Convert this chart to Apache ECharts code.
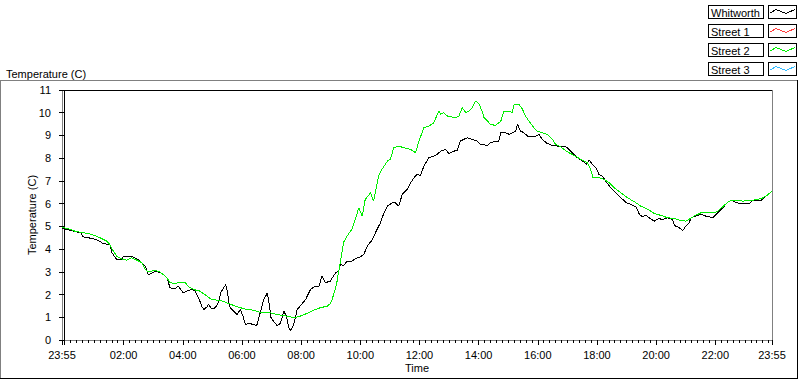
<!DOCTYPE html>
<html>
<head>
<meta charset="utf-8">
<script src="https://cdn.jsdelivr.net/npm/echarts@6/dist/echarts.min.js"></script>
<style>
  html, body { margin: 0; padding: 0; background: #fff; }
  #chart { width: 800px; height: 380px; }
  /* LabVIEW draws without anti-aliasing */
  #chart svg path, #chart svg polyline, #chart svg line, #chart svg rect { shape-rendering: crispEdges; }
</style>
</head>
<body>
<div id="chart"></div>
<script>
// time is minutes from midnight, 23:55 of the day before is -5
const seriesNames = ['Whitworth', 'Street 1', 'Street 2', 'Street 3'];
const seriesColors = ['#000000', '#ff3c3c', '#00ee00', '#33bbff'];

const xTickMinutes = [-5, 120, 240, 360, 480, 600, 720, 840, 960, 1080, 1200, 1320, 1435];
const xTickLabels = ['23:55', '02:00', '04:00', '06:00', '08:00', '10:00', '12:00',
  '14:00', '16:00', '18:00', '20:00', '22:00', '23:55'];

const whitworthTimes = [
  -5, 5, 18, 33, 38, 55, 65, 79, 92, 96, 106, 116, 120, 136, 150, 157, 164, 170, 177, 184,
  194, 201, 208, 214, 224, 231, 241, 248, 258, 265, 272, 279, 283, 289, 292, 299, 306, 312, 317, 323,
  327, 331, 333, 336, 343, 350, 357, 362, 367, 374, 384, 390, 397, 404, 411, 414, 419, 424, 431, 438,
  445, 450, 455, 459, 465, 472, 478, 489, 499, 506, 516, 522, 529, 539, 550, 556, 560, 566, 573, 583,
  590, 600, 607, 614, 624, 634, 641, 648, 655, 665, 671, 678, 685, 695, 702, 709, 715, 722, 729, 739,
  749, 756, 763, 773, 780, 790, 797, 803, 810, 817, 827, 837, 844, 858, 864, 874, 881, 885, 895, 902,
  908, 915, 919, 925, 932, 939, 946, 956, 962, 969, 979, 990, 1000, 1013, 1020, 1030, 1040, 1051, 1059, 1064,
  1071, 1078, 1084, 1091, 1098, 1108, 1118, 1125, 1132, 1139, 1149, 1159, 1166, 1172, 1179, 1186, 1196, 1206, 1213, 1223,
  1233, 1237, 1247, 1254, 1260, 1267, 1271, 1281, 1291, 1301, 1315, 1325, 1338, 1348, 1355, 1362, 1376, 1389, 1396, 1413,
  1423, 1435
];
const whitworthTemps = [
  4.91, 4.87, 4.79, 4.72, 4.54, 4.47, 4.42, 4.24, 4.2, 3.85, 3.54, 3.54, 3.69, 3.69, 3.54, 3.4, 3.25, 2.88, 2.93, 3.03,
  2.96, 2.88, 2.74, 2.3, 2.25, 2.37, 2.08, 2.15, 2.22, 2.15, 1.86, 1.46, 1.34, 1.46, 1.56, 1.37, 1.42, 1.64, 2.08, 2.3,
  2.44, 2.08, 1.64, 1.42, 1.27, 1.12, 1.34, 1.05, 0.68, 0.73, 0.68, 0.64, 1.2, 1.78, 2.05, 1.78, 0.98, 0.83, 0.64, 0.73,
  1.27, 1.05, 0.54, 0.42, 0.68, 1.34, 1.49, 1.78, 2.22, 2.34, 2.34, 2.81, 2.52, 2.59, 2.96, 3.03, 3.32, 3.27, 3.47, 3.47,
  3.57, 3.66, 3.76, 4.13, 4.4, 4.87, 5.16, 5.6, 5.89, 6.04, 6.04, 5.89, 6.41, 6.63, 6.92, 7.14, 7.29, 7.24, 7.65, 8.02,
  8.09, 8.17, 8.31, 8.39, 8.2, 8.31, 8.35, 8.75, 8.83, 8.9, 8.83, 8.75, 8.61, 8.56, 8.68, 8.75, 8.75, 9.12, 9.12, 9.05,
  9.12, 9.19, 9.49, 9.19, 9.12, 8.97, 8.95, 8.97, 9.05, 8.83, 8.65, 8.56, 8.53, 8.53, 8.46, 8.24, 8.02, 7.87, 7.73, 7.92,
  7.73, 7.58, 7.29, 7.2, 6.99, 6.7, 6.48, 6.33, 6.19, 6.04, 5.97, 5.86, 5.53, 5.42, 5.5, 5.38, 5.23, 5.34, 5.3, 5.38,
  5.3, 5.04, 4.94, 4.82, 5.0, 5.16, 5.38, 5.45, 5.53, 5.45, 5.38, 5.6, 5.89, 6.11, 6.15, 6.04, 6.0, 6.0, 6.14, 6.15,
  6.33, 6.55
];

const street2Times = [
  -5, 11, 21, 38, 55, 72, 86, 92, 99, 106, 116, 126, 136, 147, 157, 164, 170, 184, 194, 208,
  214, 224, 231, 245, 252, 262, 275, 289, 299, 316, 329, 343, 357, 370, 384, 397, 417, 431, 451, 465,
  478, 492, 505, 519, 533, 539, 543, 547, 550, 553, 556, 560, 566, 573, 583, 590, 597, 604, 610, 621,
  627, 637, 644, 655, 661, 668, 678, 688, 702, 712, 719, 729, 739, 749, 759, 763, 769, 776, 793, 800,
  807, 814, 820, 827, 834, 841, 847, 851, 858, 864, 874, 885, 891, 902, 908, 912, 922, 929, 935, 942,
  952, 959, 969, 979, 990, 996, 1006, 1020, 1033, 1047, 1061, 1067, 1072, 1084, 1094, 1105, 1115, 1128, 1142, 1159,
  1169, 1183, 1196, 1210, 1223, 1237, 1250, 1260, 1267, 1277, 1291, 1318, 1325, 1338, 1348, 1358, 1376, 1396, 1413, 1423,
  1435
];
const street2Temps = [
  4.97, 4.87, 4.79, 4.72, 4.65, 4.5, 4.35, 4.2, 3.91, 3.69, 3.57, 3.51, 3.62, 3.51, 3.4, 3.1, 2.99, 3.07, 2.99, 2.74,
  2.52, 2.49, 2.52, 2.52, 2.34, 2.22, 2.15, 1.93, 1.78, 1.74, 1.64, 1.52, 1.42, 1.34, 1.31, 1.22, 1.2, 1.12, 1.05, 0.98,
  1.05, 1.17, 1.31, 1.42, 1.49, 1.6, 1.78, 2.1, 2.3, 2.6, 3.0, 3.47, 4.3, 4.57, 4.87, 5.31, 5.82, 5.45, 6.19, 6.48,
  6.11, 7.21, 7.51, 7.87, 7.95, 8.46, 8.53, 8.46, 8.39, 8.24, 8.75, 9.34, 9.41, 9.56, 10.07, 9.93, 10.0, 9.86, 9.78, 9.86,
  10.22, 10.0, 10.07, 10.22, 10.52, 10.37, 10.07, 9.78, 9.63, 9.49, 9.44, 9.63, 10.07, 10.07, 10.0, 10.37, 10.37, 10.15, 9.86, 9.63,
  9.34, 9.19, 9.12, 9.05, 8.83, 8.61, 8.5, 8.28, 8.13, 7.95, 7.8, 7.51, 7.14, 7.14, 7.07, 6.92, 6.7, 6.48, 6.26, 6.04,
  5.89, 5.75, 5.57, 5.48, 5.38, 5.34, 5.26, 5.23, 5.31, 5.45, 5.6, 5.6, 5.67, 5.92, 6.11, 6.15, 6.11, 6.15, 6.22, 6.33,
  6.55
];

// Street 1 and Street 3 have no samples in this plot
const seriesData = [
  whitworthTimes.map((t, i) => [t, whitworthTemps[i]]),
  [],
  street2Times.map((t, i) => [t, street2Temps[i]]),
  []
];

const FONT = 'Liberation Sans';

// minor ticks every 12 minutes, except where a major tick is
const minorTicks = [];
for (let m = 12; m < 1435; m += 12) {
  if (m % 120 !== 0) minorTicks.push(m);
}

// legend drawn as LabVIEW-style boxes
const legendItems = [];
seriesNames.forEach((name, i) => {
  const y = 5 + i * 19;
  legendItems.push(
    { type: 'rect', shape: { x: 708.5, y: y + 0.5, width: 55, height: 13 },
      style: { fill: '#fff', stroke: '#000', lineWidth: 1 } },
    { type: 'text', x: 711, y: y + 7.5,
      style: { text: name, font: '11px ' + FONT, fill: '#000', verticalAlign: 'middle' } },
    { type: 'rect', shape: { x: 768.5, y: y + 0.5, width: 28, height: 13 },
      style: { fill: '#fff', stroke: '#000', lineWidth: 1 } },
    { type: 'polyline', shape: { points: [[770, y + 8], [776, y + 4.5], [786, y + 8.5], [795, y + 4.5]] },
      style: { stroke: seriesColors[i], lineWidth: 1, fill: null } }
  );
});

const chart = echarts.init(document.getElementById('chart'), null, { renderer: 'svg' });
chart.setOption({
  animation: false,
  backgroundColor: '#fff',
  title: {
    text: 'Temperature (C)',
    left: 1, top: 63,
    textStyle: { fontFamily: FONT, fontSize: 11, fontWeight: 'normal', color: '#000' }
  },
  grid: {
    left: 62, top: 90, right: 28, bottom: 40,
    show: true, borderColor: '#808080', borderWidth: 1, backgroundColor: '#fff'
  },
  xAxis: [
    {
      type: 'value', min: -5, max: 1435, position: 'bottom',
      name: 'Time', nameLocation: 'middle', nameGap: 22, nameMoveOverlap: false,
      nameTextStyle: { fontFamily: FONT, fontSize: 11, color: '#000', verticalAlign: 'top' },
      axisLine: { show: true, lineStyle: { color: '#808080', width: 1 } },
      axisTick: { show: true, length: 5, customValues: [-5, 0].concat(xTickMinutes.slice(1)),
        lineStyle: { color: '#000' } },
      axisLabel: {
        customValues: xTickMinutes, margin: 9,
        fontFamily: FONT, fontSize: 11, color: '#000',
        formatter: v => xTickLabels[xTickMinutes.indexOf(v)] || ''
      },
      splitLine: { show: false }
    },
    {
      type: 'value', min: -5, max: 1435, position: 'bottom',
      axisLine: { show: false },
      axisTick: { show: true, length: 3, customValues: minorTicks, lineStyle: { color: '#000' } },
      axisLabel: { show: false },
      splitLine: { show: false }
    },
    {
      type: 'value', min: -5, max: 1435, position: 'top',
      axisLine: { show: true, lineStyle: { color: '#000', width: 1 } },
      axisTick: { show: false }, axisLabel: { show: false }, splitLine: { show: false }
    }
  ],
  yAxis: {
    type: 'value', min: 0, max: 11, interval: 1,
    name: 'Temperature (C)', nameLocation: 'middle', nameGap: 25, nameMoveOverlap: false,
    nameTextStyle: { fontFamily: FONT, fontSize: 11, color: '#000' },
    axisLine: { show: true, lineStyle: { color: '#000', width: 1 } },
    axisTick: { show: true, length: 5, lineStyle: { color: '#000' } },
    axisLabel: { margin: 11, fontFamily: FONT, fontSize: 11, color: '#000' },
    splitLine: { show: false }
  },
  series: seriesNames.map((name, i) => ({
    name: name,
    type: 'line',
    xAxisIndex: 0,
    data: seriesData[i],
    showSymbol: false,
    symbol: 'none',
    lineStyle: { color: seriesColors[i], width: 1 },
    itemStyle: { color: seriesColors[i] },
    z: 3
  })),
  graphic: [
    // outer panel frame
    { type: 'line', shape: { x1: 0, y1: 80.5, x2: 798, y2: 80.5 }, style: { stroke: '#808080', lineWidth: 1 } },
    { type: 'line', shape: { x1: 0.5, y1: 80, x2: 0.5, y2: 379 }, style: { stroke: '#808080', lineWidth: 1 } },
    { type: 'line', shape: { x1: 0, y1: 378.5, x2: 798, y2: 378.5 }, style: { stroke: '#000', lineWidth: 1 } },
    { type: 'line', shape: { x1: 797.5, y1: 80, x2: 797.5, y2: 379 }, style: { stroke: '#000', lineWidth: 1 } }
  ].concat(legendItems)
});
</script>
</body>
</html>
